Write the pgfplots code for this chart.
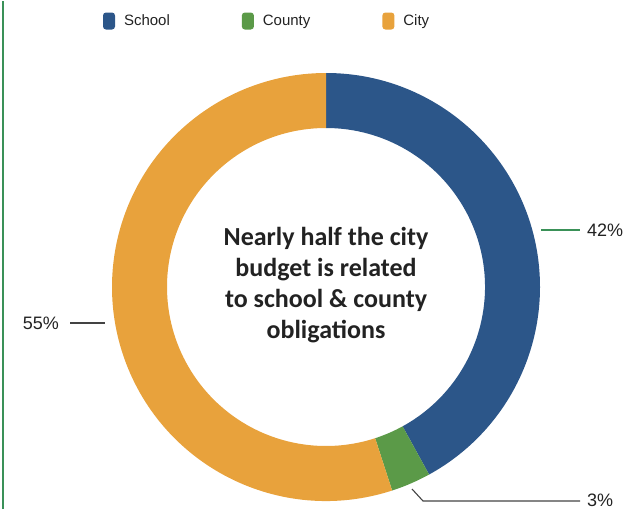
\documentclass[border=0pt]{standalone}
\usepackage{pgfplots}
\pgfplotsset{compat=1.18}
\usepackage{pgfplotstable}
\usepackage{fontspec}
\setmainfont{Liberation Sans}
\newfontfamily\calibri{Carlito}
\definecolor{schoolblue}{HTML}{2C5689}
\definecolor{countygreen}{HTML}{5B9A48}
\definecolor{cityorange}{HTML}{E8A23C}
\definecolor{bordergreen}{HTML}{3A9158}
\definecolor{txt}{HTML}{222222}

\pgfplotstableread{
label value colour
School 42 schoolblue
County 3 countygreen
City 55 cityorange
}\piedata

\begin{document}
\begin{tikzpicture}
\begin{axis}[
  x=1pt, y=1pt, xmin=0, xmax=637, ymin=0, ymax=508,
  hide axis, clip=false,
  legend columns=3,
  legend image code/.code={\path[#1, rounded corners=3pt] (0pt,-8.5pt) rectangle (12pt,8.5pt);},
  legend style={draw=none, fill=none, at={(0.1617,0.9606)}, anchor=west,
    inner sep=0pt, outer sep=0pt, font=\fontsize{15}{17}\selectfont, text=txt,
    /tikz/every odd column/.append style={column sep=9pt},
    /tikz/every even column/.append style={column sep=72pt},
    nodes={inner sep=0pt}},
]
\addlegendimage{fill=schoolblue, draw=none}
\addlegendentry{School}
\addlegendimage{fill=countygreen, draw=none}
\addlegendentry{County}
\addlegendimage{fill=cityorange, draw=none}
\addlegendentry{City}

% fix the bounding box to the full axis area
\path (rel axis cs:0,0) rectangle (rel axis cs:1,1);

\def\cum{90}
\pgfplotsforeachungrouped \i in {0,1,2}{%
  \pgfplotstablegetelem{\i}{value}\of\piedata \let\v\pgfplotsretval
  \pgfplotstablegetelem{\i}{colour}\of\piedata \let\c\pgfplotsretval
  \pgfmathsetmacro\aend{\cum-3.6*\v}%
  \edef\temp{\noexpand\fill[\c] (axis cs:326,222) ++(\cum:214pt)
     arc[start angle=\cum, end angle=\aend, radius=214pt]
     -- ++(\aend:-55pt)
     arc[start angle=\aend, end angle=\cum, radius=159pt] -- cycle;}%
  \temp
  \global\let\cum\aend
}

% left border
\draw[bordergreen, line width=2pt] (axis cs:2.5,0) -- (axis cs:2.5,508);

% leader lines and labels
\draw[bordergreen, line width=1.3pt] (axis cs:541,279) -- (axis cs:580,279);
\node[anchor=west, inner sep=0pt, text=txt, font=\fontsize{18}{20}\selectfont] at (axis cs:587,279) {42\%};
\draw[txt!85, line width=1.2pt] (axis cs:70,186) -- (axis cs:105,186);
\node[anchor=east, inner sep=0pt, text=txt, font=\fontsize{18}{20}\selectfont] at (axis cs:59,186) {55\%};
\draw[txt!85, line width=1.1pt] (axis cs:412,20) -- (axis cs:423,8) -- (axis cs:580,8);
\node[anchor=west, inner sep=0pt, text=txt, font=\fontsize{18}{20}\selectfont] at (axis cs:587,9) {3\%};

% centre text
\node[align=center, text=txt, font=\calibri\bfseries\fontsize{26}{31}\selectfont] at (axis cs:326,224)
  {Nearly half the city\\budget is related\\to school \& county\\obligations};
\end{axis}
\end{tikzpicture}
\end{document}
